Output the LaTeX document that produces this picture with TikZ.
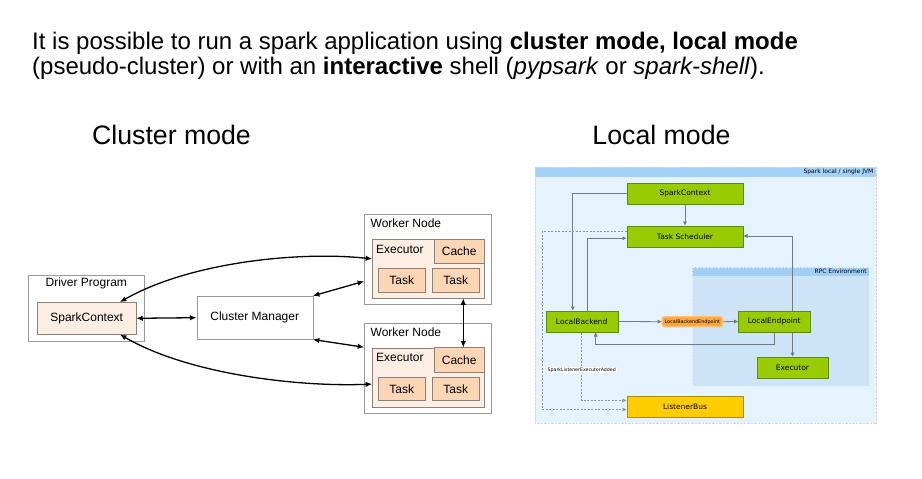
\documentclass[tikz,border=0pt]{standalone}
\usepackage{fontspec}
\setmainfont{Liberation Sans}
\newfontfamily\jvmfont{DejaVu Sans}
\usetikzlibrary{arrows.meta}
\definecolor{boxgray}{HTML}{9A9A9A}
\definecolor{peach}{HTML}{FDEEE4}
\definecolor{tan}{HTML}{FCD5B4}
\definecolor{tanline}{HTML}{8E8078}
\definecolor{jvmbody}{HTML}{E4F3FD}
\definecolor{jvmhead}{HTML}{A4D1F8}
\definecolor{rpcbody}{HTML}{CCE4F5}
\definecolor{rpchead}{HTML}{A2CEF5}
\definecolor{sparkgreen}{HTML}{99CC00}
\definecolor{greenline}{HTML}{5E8A12}
\definecolor{busyellow}{HTML}{FFCC00}
\definecolor{busline}{HTML}{B08D10}
\definecolor{epfill}{HTML}{FFA640}
\definecolor{epline}{HTML}{FFC078}
\definecolor{wirecol}{HTML}{6E7C86}
\tikzset{headline/.style={font=\fontsize{24}{28}\selectfont, inner sep=0pt},
 modetitle/.style={font=\fontsize{26.7}{30}\selectfont, inner sep=0pt},
 outerbox/.style={draw=boxgray, fill=white, inner sep=0pt, font=\fontsize{12}{14}\selectfont},
 peachbox/.style={draw=tanline, fill=peach, inner sep=0pt, font=\fontsize{12}{14}\selectfont},
 tanbox/.style={draw=tanline, fill=tan, inner sep=0pt, font=\fontsize{12}{14}\selectfont},
 boxlabel/.style={inner sep=0pt, font=\fontsize{12}{14}\selectfont},
 biarrow/.style={line width=1.3pt, {Latex[length=6.5pt,width=5.5pt]}-{Latex[length=6.5pt,width=5.5pt]}},
 sparkbox/.style={draw=greenline, fill=sparkgreen, inner sep=0pt, minimum height=21.6pt,
   font=\jvmfont\fontsize{7.5}{9}\selectfont},
 busbox/.style={sparkbox, draw=busline, fill=busyellow},
 epbox/.style={draw=epline, line width=1.2pt, fill=epfill, rounded corners=2pt, inner sep=0pt,
   minimum width=60pt, minimum height=10pt, font=\jvmfont\fontsize{4.9}{5}\selectfont},
 smalltag/.style={inner sep=1pt, font=\jvmfont\fontsize{6}{7}\selectfont},
 wire/.style={draw=wirecol, line width=0.8pt, -{Triangle[length=4pt,width=3.6pt]}},
 msgwire/.style={wire, draw=wirecol!80, line width=0.6pt, dash pattern=on 2pt off 1.5pt},
 }

\begin{document}
\begin{tikzpicture}[x=1pt,y=-1pt]
\useasboundingbox (0,0) rectangle (922,479);
\node[headline, anchor=base west] (intro1) at (32,49.3) {It is possible to run a spark application using \textbf{cluster mode, local mode}};
\node[headline, anchor=base west] (intro2) at (32,74.3) {(pseudo-cluster) or with an \textbf{interactive} shell (\textit{pypsark} or \textit{spark-shell}).};
\node[modetitle] (clustertitle) at (171.5,135) {Cluster mode};
\node[modetitle] (localtitle) at (661.5,135) {Local mode};

% cluster mode
\node[outerbox, minimum width=116pt, minimum height=66.7pt] (driver) at (86.3,308.3) {};
\node[boxlabel] (driverlabel) at (86.3,283.5) {Driver Program};
\node[peachbox, minimum width=98.7pt, minimum height=32pt] (sc) at (86.7,318.3) {SparkContext};
\node[outerbox, minimum width=116pt, minimum height=43.3pt] (cm) at (254.7,317.7) {Cluster Manager};

\node[outerbox, minimum width=127.3pt, minimum height=90pt] (wn1) at (428,259.3) {};
\node[boxlabel, anchor=west] (wn1label) at (370.5,223.3) {Worker Node};
\node[peachbox, minimum width=111.7pt, minimum height=59pt] (ex1) at (428.2,268.8) {};
\node[boxlabel, anchor=west] (ex1label) at (376,249) {Executor};
\node[tanbox, minimum width=49.7pt, minimum height=23.4pt] (ca1) at (459.2,251) {Cache};
\node[tanbox, minimum width=46.7pt, minimum height=23.3pt] (t11) at (401.7,280.3) {Task};
\node[tanbox, minimum width=46.7pt, minimum height=23.3pt] (t12) at (455.7,280.3) {Task};

\node[outerbox, minimum width=127.3pt, minimum height=90.6pt] (wn2) at (428,368) {};
\node[boxlabel, anchor=west] (wn2label) at (370.5,332.3) {Worker Node};
\node[peachbox, minimum width=111.7pt, minimum height=59pt] (ex2) at (428.2,377.2) {};
\node[boxlabel, anchor=west] (ex2label) at (376,357.3) {Executor};
\node[tanbox, minimum width=49.7pt, minimum height=24.3pt] (ca2) at (459.2,359.8) {Cache};
\node[tanbox, minimum width=46.7pt, minimum height=23.3pt] (t21) at (401.7,389) {Task};
\node[tanbox, minimum width=46.7pt, minimum height=23.3pt] (t22) at (455.7,389) {Task};

\draw[biarrow] (sc.east) -- (cm.west);
\draw[biarrow] (cm.north east) -- (wn1.199);
\draw[biarrow] (cm.south east) -- (wn2.162);
\draw[biarrow] (sc.26) .. controls (190,262) and (300,251) .. (ex1.170);
\draw[biarrow] (sc.-26) .. controls (190,375) and (300,387) .. (ex2.187);
\coordinate (cachelink) at (463.3,298.3);
\draw[biarrow] (cachelink) -- (cachelink |- ca2.north);

% local mode
\fill[jvmbody] (535,167.3) rectangle (875.7,423.3);
\fill[jvmhead] (535,167.3) rectangle (875.7,176.7);
\draw[boxgray!40, densely dotted] (535,167.3) rectangle (875.7,423.3);
\node[smalltag, anchor=east] (jvmlabel) at (874.5,172) {Spark local / single JVM};
\fill[rpcbody] (692.3,267.3) rectangle (869,385.7);
\fill[rpchead] (692.3,267.3) rectangle (869,276);
\draw[white!70!jvmhead, densely dotted] (692.3,267.3) rectangle (869,385.7);
\node[smalltag, anchor=east] (rpclabel) at (868,271.7) {RPC Environment};

\node[sparkbox, minimum width=116.6pt, minimum height=21pt] (spctx) at (685,193.8) {SparkContext};
\node[sparkbox, minimum width=116.6pt] (tsch) at (685,236.5) {Task Scheduler};
\node[sparkbox, minimum width=72pt] (lback) at (581.7,321.5) {LocalBackend};
\node[epbox] (lbep) at (692.3,321.7) {LocalBackendEndpoint};
\node[sparkbox, minimum width=71.7pt] (lend) at (774.2,321.5) {LocalEndpoint};
\node[sparkbox, minimum width=71.6pt] (exec) at (792.5,367.5) {Executor};
\node[busbox, minimum width=116.6pt] (lbus) at (685,406.5) {ListenerBus};

\draw[wire] (spctx.west) -| ([xshift=-9pt]lback.north);
\draw[wire] (spctx.south) -- (tsch.north);
\draw[wire] ([xshift=6pt]lback.north) |- ([yshift=-1.8pt]tsch.west);
\draw[wire] (lback.east) -- (lbep.west);
\draw[wire] (lbep.east) -- (lend.west);
\draw[wire] ([xshift=18pt]lend.north) |- ([yshift=0.5pt]tsch.east);
\draw[wire] (lend.south -| exec.north) -- (exec.north);
\draw[wire] (lend.south) -- ++(0,12) -| ([xshift=14pt]lback.south);
\draw[msgwire] (lback.south) |- ([yshift=6pt]lbus.west);
\draw[msgwire] ([yshift=5pt]tsch.west) -- ++(-84.4,0) |- ([yshift=-3pt]lbus.west);
\node[smalltag, fill=white, font=\jvmfont\fontsize{4.7}{5}\selectfont] (addedlabel) at (581.7,370) {SparkListenerExecutorAdded};
\end{tikzpicture}
\end{document}
